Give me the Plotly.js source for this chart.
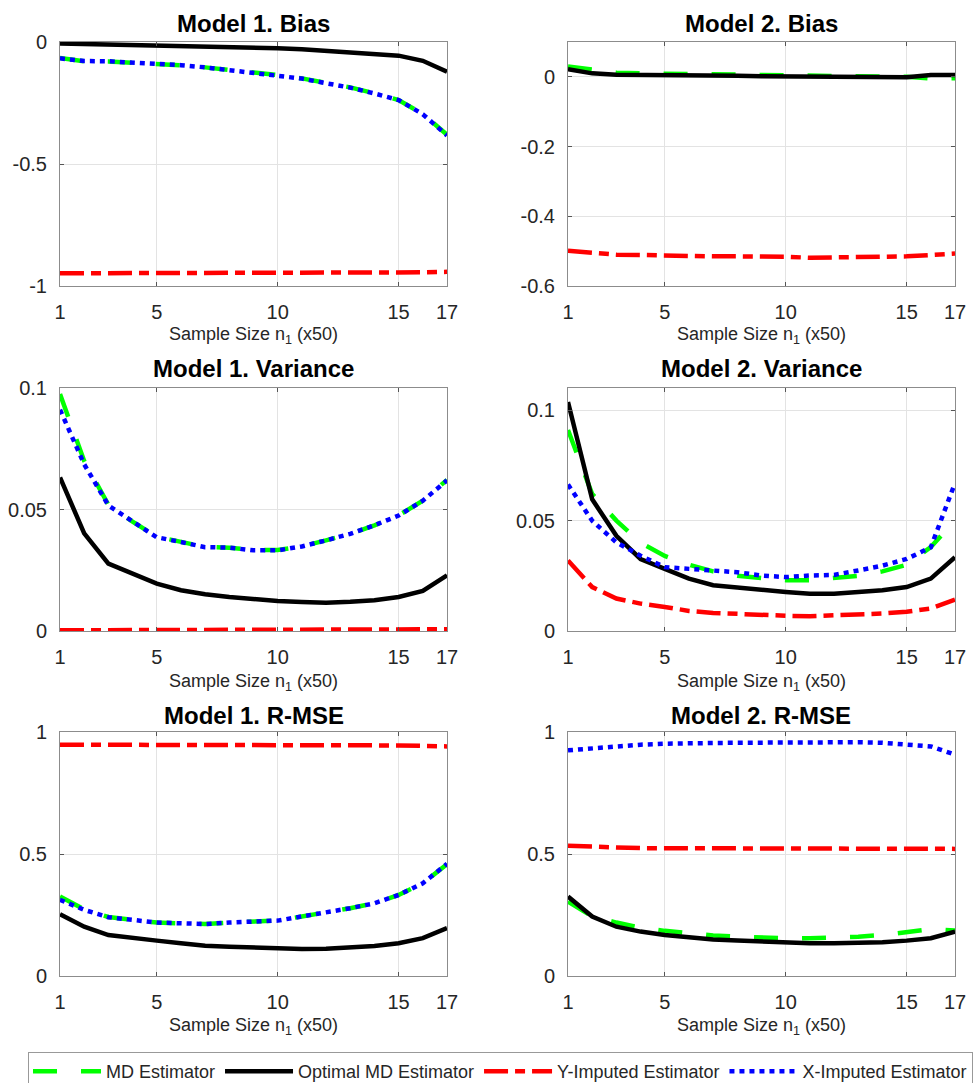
<!DOCTYPE html>
<html>
<head>
<meta charset="utf-8">
<script src="https://cdn.plot.ly/plotly-3.0.1.min.js"></script>
<style>html,body{margin:0;padding:0;background:#fff;overflow:hidden;}#chart{width:980px;height:1083px;}</style>
</head>
<body>
<div id="chart"></div>
<script>
// ---------- data ----------
var sampleSize = [1,2,3,4,5,6,7,8,9,10,11,12,13,14,15,16,17];
var xTickVals = [1,5,10,15,17];
var xTickText = ['1','5','10','15','17'];
var seriesNames = ['MD Estimator','Optimal MD Estimator','Y-Imputed Estimator','X-Imputed Estimator'];
var panelTitles = ['Model 1. Bias','Model 2. Bias','Model 1. Variance','Model 2. Variance','Model 1. R-MSE','Model 2. R-MSE'];
var xAxisLabel = 'Sample Size n<sub>1</sub> (x50)';

// Model 1 Bias
var m1BiasMD  = [-0.066,-0.079,-0.080,-0.084,-0.090,-0.096,-0.104,-0.114,-0.124,-0.135,-0.149,-0.167,-0.186,-0.210,-0.238,-0.295,-0.380];
var m1BiasOpt = [-0.006,-0.008,-0.008,-0.010,-0.012,-0.014,-0.017,-0.019,-0.022,-0.026,-0.030,-0.036,-0.041,-0.047,-0.056,-0.077,-0.122];
var m1BiasY   = [-0.948,-0.948,-0.948,-0.948,-0.947,-0.947,-0.947,-0.947,-0.947,-0.947,-0.947,-0.947,-0.947,-0.946,-0.946,-0.944,-0.942];
var m1BiasX   = [-0.067,-0.078,-0.079,-0.083,-0.090,-0.095,-0.104,-0.115,-0.125,-0.136,-0.150,-0.169,-0.187,-0.211,-0.238,-0.296,-0.383];
// Model 2 Bias
var m2BiasMD  = [0.030,0.020,0.012,0.010,0.009,0.007,0.006,0.006,0.005,0.004,0.004,0.003,0.003,0.002,0.000,-0.005,-0.004];
var m2BiasOpt = [0.022,0.010,0.006,0.006,0.005,0.004,0.003,0.003,0.002,0.002,0.002,0.001,0.001,0.001,-0.001,0.005,0.005];
var m2BiasY   = [-0.499,-0.505,-0.510,-0.511,-0.513,-0.516,-0.515,-0.515,-0.515,-0.516,-0.519,-0.517,-0.516,-0.516,-0.515,-0.512,-0.507];
// Model 1 Variance
var m1VarMD  = [0.0975,0.0700,0.0520,0.0450,0.0388,0.0366,0.0346,0.0343,0.0333,0.0333,0.0348,0.0373,0.0400,0.0435,0.0476,0.0536,0.0622];
var m1VarOpt = [0.0632,0.0402,0.0277,0.0236,0.0195,0.0168,0.0151,0.0140,0.0130,0.0123,0.0119,0.0116,0.0120,0.0127,0.0140,0.0165,0.0229];
var m1VarY   = [0.0003,0.0003,0.0003,0.0003,0.0003,0.0003,0.0003,0.0003,0.0003,0.0003,0.0003,0.0003,0.0003,0.0003,0.0004,0.0005,0.0007];
var m1VarX   = [0.0911,0.0686,0.0517,0.0450,0.0386,0.0366,0.0345,0.0343,0.0332,0.0332,0.0348,0.0373,0.0400,0.0435,0.0475,0.0536,0.0620];
// Model 2 Variance
var m2VarMD  = [0.0910,0.0620,0.0500,0.0400,0.0340,0.0300,0.0270,0.0250,0.0240,0.0230,0.0230,0.0240,0.0250,0.0270,0.0300,0.0380,0.0500];
var m2VarOpt = [0.1037,0.0596,0.0431,0.0326,0.0281,0.0237,0.0207,0.0196,0.0184,0.0177,0.0169,0.0169,0.0177,0.0184,0.0199,0.0237,0.0334];
var m2VarY   = [0.0319,0.0199,0.0147,0.0124,0.0109,0.0091,0.0082,0.0076,0.0072,0.0069,0.0067,0.0070,0.0075,0.0079,0.0087,0.0102,0.0142];
var m2VarX   = [0.0663,0.0499,0.0401,0.0341,0.0289,0.0281,0.0277,0.0266,0.0251,0.0244,0.0251,0.0254,0.0274,0.0296,0.0326,0.0379,0.0670];
// Model 1 R-MSE
var m1RmseMD  = [0.326,0.273,0.242,0.230,0.219,0.216,0.213,0.219,0.223,0.227,0.244,0.260,0.278,0.298,0.332,0.380,0.458];
var m1RmseOpt = [0.253,0.202,0.168,0.155,0.145,0.134,0.124,0.120,0.116,0.114,0.111,0.112,0.116,0.123,0.134,0.155,0.196];
var m1RmseY   = [0.948,0.948,0.948,0.948,0.948,0.948,0.948,0.947,0.947,0.947,0.947,0.947,0.946,0.946,0.945,0.943,0.941];
var m1RmseX   = [0.312,0.271,0.241,0.230,0.219,0.216,0.213,0.219,0.223,0.227,0.244,0.260,0.278,0.298,0.332,0.380,0.460];
// Model 2 R-MSE
var m2RmseMD  = [0.305,0.244,0.219,0.198,0.185,0.175,0.166,0.161,0.157,0.155,0.155,0.156,0.161,0.168,0.178,0.192,0.186];
var m2RmseOpt = [0.326,0.244,0.202,0.182,0.168,0.157,0.150,0.145,0.141,0.137,0.134,0.134,0.135,0.138,0.145,0.155,0.182];
var m2RmseY   = [0.534,0.529,0.527,0.524,0.524,0.524,0.524,0.523,0.523,0.523,0.523,0.522,0.522,0.522,0.522,0.521,0.521];
var m2RmseX   = [0.925,0.934,0.941,0.948,0.952,0.955,0.955,0.956,0.957,0.959,0.959,0.959,0.958,0.956,0.950,0.941,0.907];

var yRanges = [[-1,0],[-0.6,0.1],[0,0.1],[0,0.11],[0,1],[0,1]];
var yTickVals = [[-1,-0.5,0],[-0.6,-0.4,-0.2,0],[0,0.05,0.1],[0,0.05,0.1],[0,0.5,1],[0,0.5,1]];
var yTickText = [['-1','-0.5','0'],['-0.6','-0.4','-0.2','0'],['0','0.05','0.1'],['0','0.05','0.1'],['0','0.5','1'],['0','0.5','1']];

// ---------- styles ----------
var styles = [
  {color:'#00ff00', width:4.5, dash:'24px,24px'},
  {color:'#000000', width:4.5, dash:'solid'},
  {color:'#ff0000', width:4.5, dash:'24px,7px,10px,7px'},
  {color:'#0000ff', width:4.5, dash:'5px,5px'}
];

var panels = [
  [m1BiasMD, m1BiasOpt, m1BiasY, m1BiasX],
  [m2BiasMD, m2BiasOpt, m2BiasY, null],
  [m1VarMD, m1VarOpt, m1VarY, m1VarX],
  [m2VarMD, m2VarOpt, m2VarY, m2VarX],
  [m1RmseMD, m1RmseOpt, m1RmseY, m1RmseX],
  [m2RmseMD, m2RmseOpt, m2RmseY, m2RmseX]
];

var W = 980, H = 1083;
var colPx = [[60,447],[568,955]];
var rowPx = [[42,286],[388,631],[732,976]];
var titleY = [23,368,715];
var xTitleY = [336,682,1026];

var FONT = 'Liberation Sans, Arial, Helvetica, sans-serif';
var data = [];
var layout = {
  width: W, height: H,
  margin: {l:0,r:0,t:0,b:0, autoexpand:false},
  paper_bgcolor:'#ffffff', plot_bgcolor:'#ffffff',
  font: {family: FONT, color:'#262626', size:20},
  showlegend: true,
  legend: {
    orientation:'h', xref:'paper', yref:'paper',
    x: 28/W, y: 1-1052/H, xanchor:'left', yanchor:'top',
    bordercolor:'#999999', borderwidth:1, bgcolor:'#ffffff',
    font:{family:FONT, size:18, color:'#262626'},
    itemwidth: 68, tracegroupgap:0
  },
  annotations: []
};

for (var p = 0; p < 6; p++) {
  var r = Math.floor(p/2), c = p % 2;
  var sfx = p === 0 ? '' : String(p+1);
  var xa = 'xaxis' + sfx, ya = 'yaxis' + sfx;
  var xd = [colPx[c][0]/W, colPx[c][1]/W];
  var yd = [1 - rowPx[r][1]/H, 1 - rowPx[r][0]/H];
  layout[xa] = {
    domain: xd, anchor: 'y' + sfx, range: [1,17],
    tickmode:'array', tickvals: xTickVals, ticktext: xTickText,
    showgrid:true, gridcolor:'#e3e3e3', gridwidth:1, zeroline:false,
    showline:true, linecolor:'#8c8c8c', linewidth:1, mirror:'ticks',
    ticks:'inside', ticklen:4, tickcolor:'#555555',
    tickfont:{family:FONT, size:20, color:'#262626'},
    ticklabelstandoff: 8
  };
  layout[ya] = {
    domain: yd, anchor: 'x' + sfx, range: yRanges[p],
    tickmode:'array', tickvals: yTickVals[p], ticktext: yTickText[p],
    showgrid:true, gridcolor:'#e3e3e3', gridwidth:1, zeroline:false,
    showline:true, linecolor:'#8c8c8c', linewidth:1, mirror:'ticks',
    ticks:'inside', ticklen:4, tickcolor:'#555555',
    tickfont:{family:FONT, size:20, color:'#262626'},
    ticklabelstandoff: 8
  };
  for (var s = 0; s < 4; s++) {
    if (!panels[p][s]) continue;
    data.push({
      type:'scatter', mode:'lines',
      x: sampleSize, y: panels[p][s],
      xaxis:'x' + sfx, yaxis:'y' + sfx,
      name: seriesNames[s], legendgroup: seriesNames[s],
      showlegend: p === 0,
      line: {color: styles[s].color, width: styles[s].width, dash: styles[s].dash},
      cliponaxis: true, hoverinfo:'skip'
    });
  }
  layout.annotations.push({
    text: panelTitles[p], xref:'paper', yref:'paper',
    x: (xd[0]+xd[1])/2, y: 1 - titleY[r]/H, xanchor:'center', yanchor:'middle',
    showarrow:false, font:{family:FONT, size:24, weight:'bold', color:'#000000'}
  });
  layout.annotations.push({
    text: xAxisLabel, xref:'paper', yref:'paper',
    x: (xd[0]+xd[1])/2, y: 1 - xTitleY[r]/H, xanchor:'center', yanchor:'middle',
    showarrow:false, font:{family:FONT, size:18, color:'#262626'}
  });
}

Plotly.newPlot('chart', data, layout, {staticPlot:true, displayModeBar:false});
</script>
</body>
</html>
